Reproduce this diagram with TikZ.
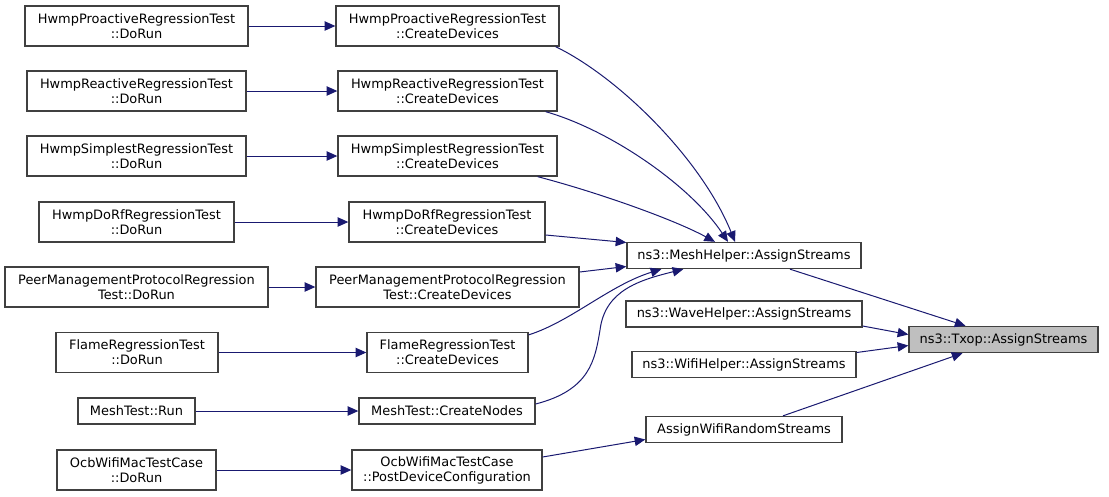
\documentclass[tikz,border=0pt]{standalone}
\usepackage{fontspec}
\setmainfont{DejaVu Sans}
\usetikzlibrary{arrows.meta,calc}
\definecolor{edgec}{HTML}{191970}
\definecolor{boxc}{HTML}{404040}
\definecolor{hl}{HTML}{BFBFBF}
\tikzset{
  box/.style={draw=boxc, line width=1pt, fill=white, align=center, inner sep=0pt,
    font=\fontsize{9.7}{11.2}\selectfont, minimum height=30pt},
  short/.style={minimum height=19.5pt},
  bw/.style={minimum width=#1*0.75pt},
  edge/.style={draw=edgec, line width=0.75pt, -{Triangle[length=8pt,width=7pt]}},
}
\begin{document}
\begin{tikzpicture}[x=0.75pt,y=-0.75pt]
\useasboundingbox (0,0) rectangle (1109,496);
% column 1
\node[box,bw=223] (A1) at (136.5,26) {HwmpProactiveRegressionTest\\::DoRun};
\node[box,bw=219] (A2) at (136.5,91) {HwmpReactiveRegressionTest\\::DoRun};
\node[box,bw=219] (A3) at (136.5,156) {HwmpSimplestRegressionTest\\::DoRun};
\node[box,bw=195] (A4) at (136.5,222) {HwmpDoRfRegressionTest\\::DoRun};
\node[box,bw=263] (A5) at (136.5,287) {PeerManagementProtocolRegression\\Test::DoRun};
\node[box,bw=162] (A6) at (137,352.5) {FlameRegressionTest\\::DoRun};
\node[box,short,bw=117] (A7) at (136.5,411) {MeshTest::Run};
\node[box,bw=159] (A8) at (136.5,470) {OcbWifiMacTestCase\\::DoRun};
% column 2
\node[box,bw=223] (B1) at (447.5,26) {HwmpProactiveRegressionTest\\::CreateDevices};
\node[box,bw=219] (B2) at (447.5,91) {HwmpReactiveRegressionTest\\::CreateDevices};
\node[box,bw=219] (B3) at (447.5,156) {HwmpSimplestRegressionTest\\::CreateDevices};
\node[box,bw=196] (B4) at (447,222) {HwmpDoRfRegressionTest\\::CreateDevices};
\node[box,bw=263] (B5) at (447.5,287) {PeerManagementProtocolRegression\\Test::CreateDevices};
\node[box,bw=161] (B6) at (447.5,352.5) {FlameRegressionTest\\::CreateDevices};
\node[box,short,bw=176] (B7) at (447,411) {MeshTest::CreateNodes};
\node[box,bw=190] (B8) at (447,470) {OcbWifiMacTestCase\\::PostDeviceConfiguration};
% column 3
\node[box,short,bw=234] (C1) at (744,255.5) {ns3::MeshHelper::AssignStreams};
\node[box,short,bw=236] (C2) at (744,314) {ns3::WaveHelper::AssignStreams};
\node[box,short,bw=224] (C3) at (744,364.5) {ns3::WifiHelper::AssignStreams};
\node[box,short,bw=196] (C4) at (744,429.5) {AssignWifiRandomStreams};
% target
\node[box,short,bw=189,fill=hl] (D) at (1003.5,339.5) {ns3::Txop::AssignStreams};
% edges col1 -> col2
\foreach \i in {1,...,8} \draw[edge] (A\i) -- (B\i);
% edges col2 -> MeshHelper
\draw[edge] ($(B1.south east)+(-4,0)$) .. controls (620,78) and (702,160) .. ($(C1.north)+(-9,0)$);
\draw[edge] ($(B2.south east)+(-12,0)$) .. controls (610,130) and (690,185) .. ($(C1.north)+(-16,0)$);
\draw[edge] ($(B3.south east)+(-20,0)$) .. controls (600,193) and (675,220) .. ($(C1.north)+(-29,0)$);
\draw[edge] ($(B4.east)+(0,13)$) -- ($(C1.west)+(0,-13)$);
\draw[edge] ($(B5.east)+(0,-15)$) -- ($(C1.west)+(0,11)$);
\draw[edge] ($(B6.north east)+(0,3)$) .. controls (570,322) and (610,285) .. ($(C1.south west)+(35,0)$);
\draw[edge] ($(B7.east)+(0,-7)$) .. controls (590,390) and (595,360) .. (600,330)
   .. controls (605,290) and (640,280) .. ($(C1.south west)+(57,0)$);
% edges to Txop
\draw[edge] ($(C1.south)+(46,0)$) -- ($(D.north)+(-38,0)$);
\draw[edge] ($(C2.east)+(0,12)$) -- ($(D.west)+(0,-5)$);
\draw[edge] ($(C3.east)+(0,-12)$) -- ($(D.west)+(0,6)$);
\draw[edge] ($(C4.north)+(39,0)$) -- ($(D.south)+(-41,0)$);
\draw[edge] ($(B8.east)+(0,-13)$) -- ($(C4.west)+(0,10)$);
\end{tikzpicture}
\end{document}
